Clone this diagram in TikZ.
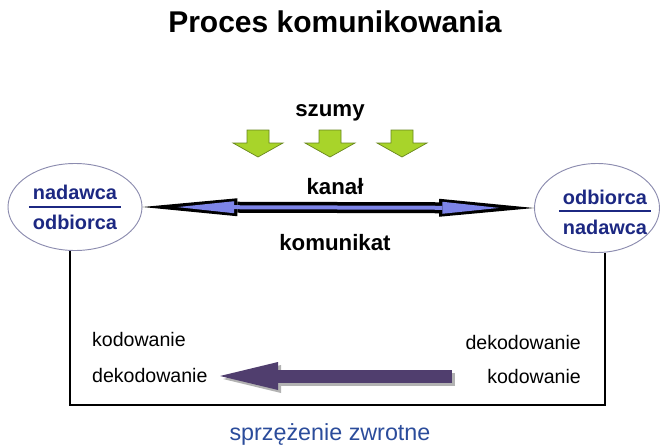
\documentclass[tikz,border=0pt]{standalone}
\usepackage{fontspec}
\setmainfont{Liberation Sans}
\usepackage{xcolor}
\usepackage{tikz}
\usetikzlibrary{positioning}
\usetikzlibrary{arrows.meta,shapes.geometric}
\definecolor{navy}{RGB}{28,40,130}
\definecolor{rimgray}{RGB}{140,140,175}
\definecolor{chanblue}{RGB}{125,132,232}
\definecolor{noisegreen}{RGB}{168,212,42}
\definecolor{noiseedge}{RGB}{105,135,30}
\definecolor{backpurple}{RGB}{80,62,110}
\definecolor{fbblue}{RGB}{43,76,155}
\tikzset{edge/.style = {line width=1.6pt, black}}
\tikzset{szum/.pic = {\filldraw[fill=noisegreen, draw=noiseedge, line width=0.6pt]
    (-11,-14) -- (11,-14) -- (11,-1) -- (25,-1) -- (0,13) -- (-25,-1) -- (-11,-1) -- cycle;}}

\begin{document}
\begin{tikzpicture}[x=0.03cm, y=-0.03cm,
    party node/.style={ellipse, draw=rimgray, line width=0.8pt, minimum width=4.02cm, minimum height=2.61cm, inner sep=0pt},
    party text/.style={navy, font=\fontsize{17}{20}\selectfont\bfseries},
    head text/.style={font=\fontsize{19}{22}\selectfont\bfseries},
    plain text/.style={font=\fontsize{16.7}{20}\selectfont}]
\useasboundingbox (0,0) rectangle (661,446);

\node[font=\fontsize{25.6}{30}\selectfont\bfseries] (title) at (335,22) {Proces komunikowania};

% szumy
\node[head text] (szumy) at (330,113) {szumy};
\pic at (258,144) {szum};
\pic at (330,144) {szum};
\pic at (402,144) {szum};

% nadawca / odbiorca
\node[party node] (nad) at (75,207) {};
\node[party text] (nadT) at (75,192) {nadawca};
\node[party text] (nadB) at (75,222) {odbiorca};
\draw[navy, line width=1.2pt] (nadT.west |- nad.center) -- (nadT.east |- nad.center);

\node[party node, minimum width=3.75cm, minimum height=2.67cm] (odb) at (597,208) {};
\node[party text] (odbT) at (605,197) {odbiorca};
\node[party text] (odbB) at (605,227) {nadawca};
\draw[navy, line width=1.2pt] (odbT.west |- 0,211) -- (odbT.east |- 0,211);

% kanal
\node[head text] (kanal) at (335,187) {kana\l};
\node[head text] (komunikat) at (335,243) {komunikat};
\draw[line width=0.33cm, {Triangle[length=2.85cm, width=0.54cm, line width=0pt]}-{Triangle[length=2.85cm, width=0.54cm, line width=0pt]}]
    (nad.east) -- (odb.west);
\draw[chanblue, line width=0.12cm, shorten <=1.05cm, shorten >=1.05cm,
    {Triangle[length=1.7cm, width=0.36cm, line width=0pt]}-{Triangle[length=1.7cm, width=0.36cm, line width=0pt]}]
    (nad.east) -- (odb.west);

% sprzezenie zwrotne
\coordinate (fb) at (330,405);
\draw[edge] (nad.-96) |- (fb) -| (odb.-80);
\node[plain text, anchor=west] (kodL) at (88,340) {kodowanie};
\node[plain text, below=1.08cm of kodL.west, anchor=west] (dekL) {dekodowanie};
\node[plain text, anchor=east] (dekR) at (585,343) {dekodowanie};
\node[plain text, below=1cm of dekR.east, anchor=east] (kodR) {kodowanie};
\coordinate (back) at (452,376);
\coordinate (backtip) at (220,376);
\draw[black!30, line width=0.39cm, -{Triangle[length=1.74cm, width=0.84cm, line width=0pt]}]
    ([shift={(3,3)}]back) -- ([shift={(3,3)}]backtip);
\draw[backpurple, line width=0.39cm, -{Triangle[length=1.74cm, width=0.84cm, line width=0pt]}]
    (back) -- (backtip);
\node[fbblue, font=\fontsize{19.9}{24}\selectfont] (zwrot) at (330,434) {sprzężenie zwrotne};
\end{tikzpicture}
\end{document}
